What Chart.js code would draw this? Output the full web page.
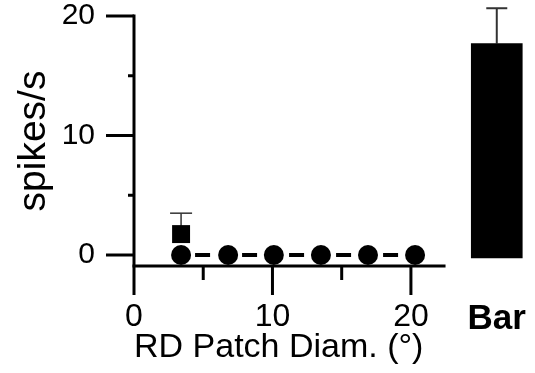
<!DOCTYPE html>
<html>
<head>
<meta charset="utf-8">
<script src="https://cdn.jsdelivr.net/npm/chart.js@4/dist/chart.umd.min.js"></script>
<style>
  html, body { margin: 0; padding: 0; background: #fff; }
  #wrap { width: 535px; height: 373px; position: relative; }
</style>
</head>
<body>
<div id="wrap"><canvas id="chart" width="535" height="373"></canvas></div>
<script>
// patch diameters (deg) and responses
const patchDiam = [3.4, 6.8, 10.1, 13.5, 16.9, 20.3];
const dotResp = [0, 0, 0, 0, 0, 0];
const squareDiam = [3.4];
const squareResp = [1.75];
const squareErr = [1.75];
// the "Bar" stimulus
const barLabels = ['Bar'];
const barResp = [17.7];
const barErr = [2.95];
const barBase = -0.25;

const xTicks = [0, 10, 20];
const xMinor = [5, 15];
const yTicks = [0, 10, 20];
const yMinor = [5, 15];

// layout bits
const barPos = 26.2;
const xAxisAt = -0.92;
const FONT = "'Liberation Sans', Arial, Helvetica, sans-serif";

const axesPlugin = {
  id: 'axesPlugin',
  beforeDatasetsDraw(chart) {
    const { ctx, scales: { x, y } } = chart;
    const seg = (x1, y1, x2, y2, w) => {
      ctx.lineWidth = w;
      ctx.beginPath(); ctx.moveTo(x1, y1); ctx.lineTo(x2, y2); ctx.stroke();
    };
    ctx.save();
    ctx.strokeStyle = '#000';
    ctx.lineCap = 'butt';
    const x0 = x.getPixelForValue(0);
    const yb = y.getPixelForValue(xAxisAt);
    // y axis + ticks
    seg(x0, y.getPixelForValue(20) - 1.5, x0, yb, 3);
    yTicks.forEach(v => seg(x0 - 28, y.getPixelForValue(v), x0, y.getPixelForValue(v), 3));
    yMinor.forEach(v => seg(x0 - 6, y.getPixelForValue(v), x0, y.getPixelForValue(v), 3));
    // x axis + ticks
    seg(x0 - 1.5, yb, x.getPixelForValue(22.5), yb, 3);
    xTicks.forEach(v => seg(x.getPixelForValue(v), yb, x.getPixelForValue(v), yb + 29, 3));
    xMinor.forEach(v => seg(x.getPixelForValue(v), yb, x.getPixelForValue(v), yb + 14, 3));
    // error bars (drawn under the marks)
    const err = (xv, v, e, cap, w) => {
      const px = x.getPixelForValue(xv);
      const top = y.getPixelForValue(v + e);
      seg(px, y.getPixelForValue(v), px, top, w);
      seg(px - cap / 2, top, px + cap / 2, top, w);
    };
    ctx.strokeStyle = '#333';
    squareDiam.forEach((d, i) => err(d, squareResp[i], squareErr[i], 22, 1.5));
    barResp.forEach((v, i) => err(barPos, v, barErr[i], 21, 2));
    ctx.restore();
  }
};

new Chart(document.getElementById('chart'), {
  data: {
    datasets: [
      {
        type: 'line',
        data: patchDiam.map((d, i) => ({ x: d, y: dotResp[i] })),
        borderColor: '#000',
        backgroundColor: '#000',
        borderWidth: 4,
        borderDash: [15, 32],
        borderDashOffset: 33,
        pointStyle: 'circle',
        pointRadius: 10,
        pointBorderWidth: 0,
        tension: 0
      },
      {
        type: 'scatter',
        data: squareDiam.map((d, i) => ({ x: d, y: squareResp[i] })),
        backgroundColor: '#000',
        borderColor: '#000',
        pointStyle: 'rect',
        pointRadius: 12.7,
        pointBorderWidth: 0
      },
      {
        type: 'bar',
        data: barResp.map(v => ({ x: barPos, y: [barBase, v] })),
        backgroundColor: '#000',
        borderWidth: 0,
        barThickness: 51
      }
    ]
  },
  options: {
    responsive: false,
    animation: false,
    events: [],
    layout: { autoPadding: false, padding: { left: 0, right: 5, top: 16, bottom: 0 } },
    plugins: { legend: { display: false }, tooltip: { enabled: false } },
    scales: {
      x: {
        type: 'linear',
        offset: false,
        min: 0,
        max: 28.6,
        grid: { display: false, drawTicks: false, offset: false },
        border: { display: false },
        afterBuildTicks: s => { s.ticks = xTicks.concat([barPos]).map(v => ({ value: v })); },
        afterFit: s => { s.height = 107; s.paddingLeft = 0; s.paddingRight = 0; },
        ticks: {
          padding: 32,
          color: '#000',
          maxRotation: 0,
          autoSkip: false,
          font: c => (c.tick && c.tick.value === barPos)
            ? { family: FONT, size: 35, weight: 'bold' }
            : { family: FONT, size: 32 },
          callback: v => v === barPos ? barLabels[0] : String(v)
        },
        title: {
          display: true,
          text: 'RD Patch Diam. (°)',
          align: 'start',
          color: '#000',
          font: { family: FONT, size: 34 },
          padding: { top: 0, bottom: 5 }
        }
      },
      y: {
        min: xAxisAt,
        max: 20,
        grid: { display: false, drawTicks: false },
        border: { display: false },
        afterBuildTicks: s => { s.ticks = yTicks.map(v => ({ value: v })); },
        afterFit: s => { s.width = 134; s.paddingTop = 0; s.paddingBottom = 0; },
        ticks: {
          padding: 39,
          color: '#000',
          font: { family: FONT, size: 30 }
        },
        title: {
          display: true,
          text: 'spikes/s',
          color: '#000',
          font: { family: FONT, size: 39 },
          padding: { top: 11, bottom: 0 }
        }
      }
    }
  },
  plugins: [axesPlugin]
});
</script>
</body>
</html>
